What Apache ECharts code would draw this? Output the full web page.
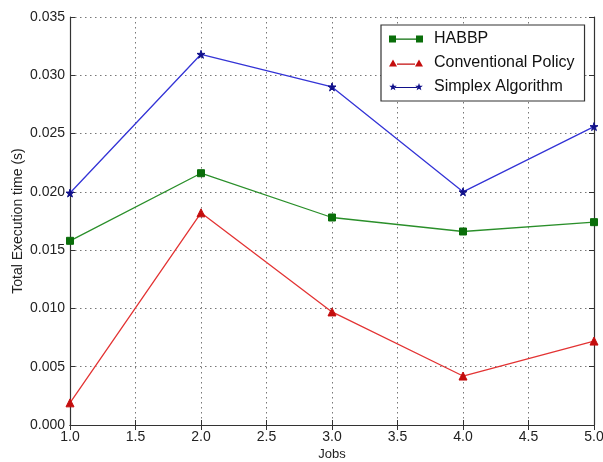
<!DOCTYPE html>
<html>
<head>
<meta charset="utf-8">
<script src="https://cdn.jsdelivr.net/npm/echarts@6/dist/echarts.min.js"></script>
<style>
  html, body { margin: 0; padding: 0; background: #fff; }
  #chart { width: 603px; height: 462px; }
</style>
</head>
<body>
<div id="chart"></div>
<script>
// data
const jobs = [1, 2, 3, 4, 5];
const habbp = [0.0158, 0.0216, 0.0178, 0.0166, 0.0174];
const conventional = [0.0019, 0.0182, 0.0097, 0.0042, 0.0072];
const simplex = [0.0199, 0.0318, 0.0290, 0.0200, 0.0256];

const font = 'Liberation Sans, Arial, sans-serif';
const starPath = 'path://M50,0 L61,35 L98,35 L68,57 L79,91 L50,70 L21,91 L32,57 L2,35 L39,35 Z';

function pairs(vals) {
    return jobs.map((j, i) => [j, vals[i]]);
}

// little star for the legend icons
function star(cx, cy, r) {
    let d = '';
    for (let i = 0; i < 10; i++) {
        const a = -Math.PI / 2 + i * Math.PI / 5;
        const rr = i % 2 ? r * 0.42 : r;
        d += (i ? 'L' : 'M') + (cx + rr * Math.cos(a)).toFixed(2) + ',' + (cy + rr * Math.sin(a)).toFixed(2) + ' ';
    }
    return d + 'Z ';
}

// matplotlib style legend handles: marker at both ends of a short line
const iconRect = 'path://M0,1 h7 v7 h-7 Z M27,1 h7 v7 h-7 Z M7,4 h20 v1.2 h-20 Z';
const iconTri = 'path://M0,8 L4,1 L8,8 Z M26,8 L30,1 L34,8 Z M8,5 h18 v1.2 h-18 Z';
const iconStar = 'path://' + star(4, 4.5, 4) + star(30, 4.5, 4) + 'M6,4.4 h22 v1.2 h-22 Z M0,0.5 h0.01 v8 h-0.01 Z M33.99,0.5 h0.01 v8 h-0.01 Z';

const chart = echarts.init(document.getElementById('chart'));

const axisLine = { show: true, lineStyle: { color: '#333', width: 1.2 } };
const tick = { show: true, inside: true, length: 5, lineStyle: { color: '#333' } };
const grid = { show: true, lineStyle: { type: [1.5, 3.5], color: '#777', width: 1 } };

const option = {
    animation: false,
    textStyle: { fontFamily: font },
    grid: { left: 70, top: 17, right: 9, bottom: 37, containLabel: false, outerBoundsMode: 'none' },
    legend: {
        orient: 'vertical',
        left: 381,
        top: 25,
        width: 205,
        padding: [6, 10, 6, 8],
        itemGap: 8,
        itemWidth: 34,
        itemHeight: 9,
        backgroundColor: '#fff',
        borderColor: '#333',
        borderWidth: 1.2,
        borderRadius: 0,
        textStyle: { fontSize: 16, color: '#111', fontFamily: font, padding: [0, 0, 0, 6] },
        data: [
            { name: 'HABBP', icon: iconRect },
            { name: 'Conventional Policy', icon: iconTri },
            { name: 'Simplex Algorithm', icon: iconStar }
        ]
    },
    xAxis: [
        {
            type: 'value', min: 1, max: 5, interval: 0.5,
            name: 'Jobs', nameLocation: 'middle', nameGap: 23, nameMoveOverlap: false,
            nameTextStyle: { fontSize: 13, color: '#222' },
            axisLine: axisLine, axisTick: tick, splitLine: grid,
            axisLabel: { fontSize: 14, color: '#222', margin: 5, formatter: v => v.toFixed(1) }
        },
        {
            type: 'value', min: 1, max: 5, interval: 0.5, position: 'top',
            axisLine: axisLine, axisTick: tick, splitLine: { show: false },
            axisLabel: { show: false }
        }
    ],
    yAxis: [
        {
            type: 'value', min: 0, max: 0.035, interval: 0.005,
            name: 'Total Execution time (s)', nameLocation: 'middle', nameGap: 45, nameMoveOverlap: false,
            nameTextStyle: { fontSize: 14, color: '#222' },
            axisLine: axisLine, axisTick: tick, splitLine: grid,
            axisLabel: { fontSize: 14, color: '#222', margin: 5, formatter: v => v.toFixed(3) }
        },
        {
            type: 'value', min: 0, max: 0.035, interval: 0.005, position: 'right',
            axisLine: axisLine, axisTick: tick, splitLine: { show: false },
            axisLabel: { show: false }
        }
    ],
    series: [
        {
            name: 'HABBP', type: 'line', data: pairs(habbp),
            symbol: 'rect', symbolSize: 7,
            lineStyle: { color: '#2a8f2a', width: 1.3 },
            itemStyle: { color: '#0a6e0a', borderColor: '#0a6e0a' }
        },
        {
            name: 'Conventional Policy', type: 'line', data: pairs(conventional),
            symbol: 'triangle', symbolSize: 8,
            lineStyle: { color: '#e33333', width: 1.3 },
            itemStyle: { color: '#c40d0d', borderColor: '#c40d0d' }
        },
        {
            name: 'Simplex Algorithm', type: 'line', data: pairs(simplex),
            symbol: starPath, symbolSize: 8,
            lineStyle: { color: '#3434d6', width: 1.3 },
            itemStyle: { color: '#10108a', borderColor: '#10108a' }
        }
    ]
};

chart.setOption(option);

window.addEventListener('resize', function () {
    chart.resize();
});
</script>
</body>
</html>
